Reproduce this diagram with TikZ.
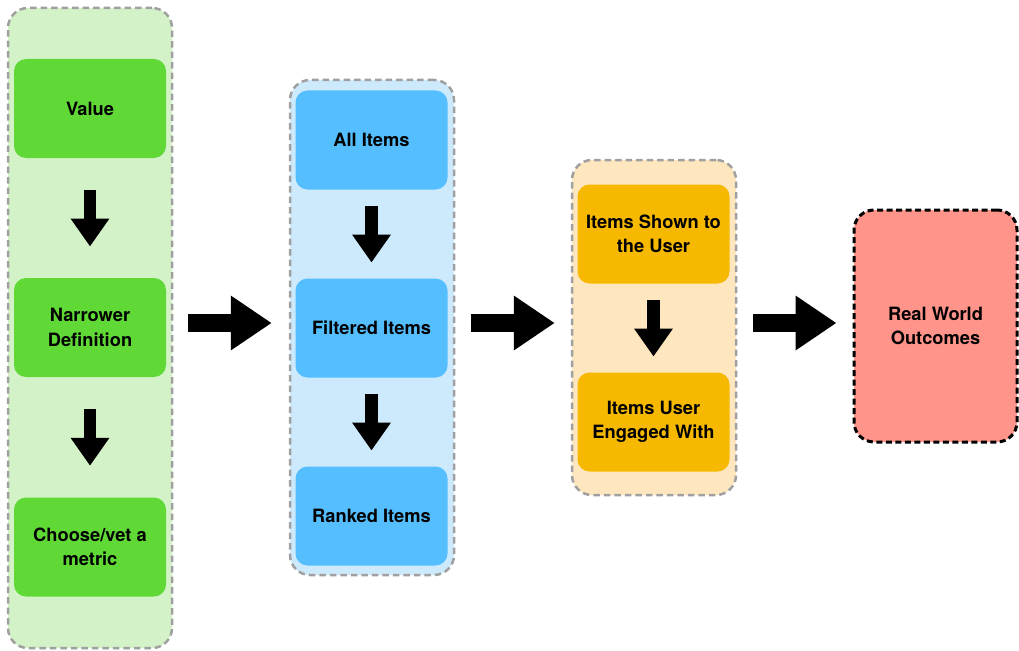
\documentclass[tikz,border=0pt]{standalone}
\usepackage{fontspec}
\setmainfont{TeX Gyre Heros}
\usetikzlibrary{arrows.meta}
\definecolor{gcont}{HTML}{D3F2C8}
\definecolor{gbox}{HTML}{60D937}
\definecolor{bcont}{HTML}{CDE9FC}
\definecolor{bbox}{HTML}{54BEFF}
\definecolor{ocont}{HTML}{FEE7BE}
\definecolor{obox}{HTML}{F6B900}
\definecolor{rbox}{HTML}{FF948A}
\definecolor{dashgray}{HTML}{A0A0A0}
\tikzset{
  cont/.style={draw=dashgray, line width=2.5pt, dash pattern=on 6.5pt off 4pt, rounded corners=20pt, inner sep=0pt},
  item/.style={rounded corners=12pt, minimum width=152pt, minimum height=99pt, inner sep=0pt,
    align=center, font=\fontsize{18.3}{24.5}\selectfont\bfseries},
  bigarrow/.style={line width=18pt, -{Triangle[width=52pt,length=41pt]}},
  smallarrow/.style={line width=12.5pt, -{Triangle[width=37pt,length=28pt]}},
}
\begin{document}
\begin{tikzpicture}[x=1pt,y=-1pt]
\useasboundingbox[fill=white] (0,0) rectangle (1019,650);
% containers
\node[cont, fill=gcont, minimum width=164pt, minimum height=640pt] (gc) at (90,328) {};
\node[cont, fill=bcont, minimum width=164pt, minimum height=495pt] (bc) at (372,327.5) {};
\node[cont, fill=ocont, minimum width=164pt, minimum height=335pt] (oc) at (654,327.5) {};
% green items
\node[item, fill=gbox] (value) at (90,108.5) {Value};
\node[item, fill=gbox] (narrow) at (90,327.5) {Narrower\\Definition};
\node[item, fill=gbox] (choose) at (90,547) {Choose/vet a\\metric};
% blue items
\node[item, fill=bbox] (all) at (371.5,140) {All Items};
\node[item, fill=bbox] (filt) at (371.5,328) {Filtered Items};
\node[item, fill=bbox] (rank) at (371.5,516) {Ranked Items};
% orange items
\node[item, fill=obox] (shown) at (653.5,234) {Items Shown to\\the User};
\node[item, fill=obox] (eng) at (653.5,422) {Items User\\Engaged With};
% red
\node[item, fill=rbox, draw=black, line width=3pt, dash pattern=on 6pt off 3.5pt,
      rounded corners=20pt, minimum width=163pt, minimum height=232pt] (real) at (935.5,326) {Real World\\Outcomes};
% down arrows
\foreach \a/\b/\n in {value/narrow/m1, narrow/choose/m2, all/filt/m3, filt/rank/m4, shown/eng/m5}{
  \path (\a.south) -- (\b.north) coordinate[pos=0.5] (\n);
  \draw[smallarrow] ([yshift=28.5pt]\n) -- ([yshift=-28.5pt]\n);
}
% right arrows
\draw[bigarrow] ([xshift=15pt,yshift=5pt]gc.east) -- ([xshift=-17pt,yshift=4.5pt]bc.west);
\draw[bigarrow] ([xshift=16pt,yshift=4.5pt]bc.east) -- ([xshift=-16pt,yshift=4.5pt]oc.west);
\draw[bigarrow] ([xshift=16pt,yshift=4.5pt]oc.east) -- ([xshift=-16pt,yshift=3pt]real.west);
\end{tikzpicture}
\end{document}
